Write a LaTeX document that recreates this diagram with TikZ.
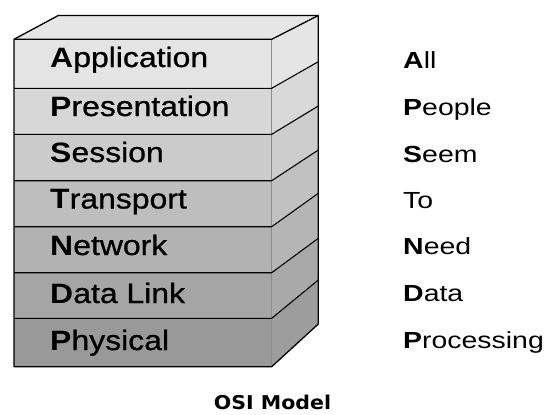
\documentclass[tikz,border=0pt]{standalone}
\usepackage{fontspec}
\setmainfont{Liberation Sans}
\newfontfamily\restfont[FakeBold=0.8]{Liberation Sans}
\newfontfamily\titlefont{DejaVu Sans}
\definecolor{appgray}{RGB}{228,228,228}
\definecolor{presgray}{RGB}{215,215,215}
\definecolor{sessgray}{RGB}{203,203,203}
\definecolor{trangray}{RGB}{190,190,190}
\definecolor{netgray}{RGB}{178,178,178}
\definecolor{datagray}{RGB}{165,165,165}
\definecolor{physgray}{RGB}{153,153,153}
\definecolor{topgray}{RGB}{230,230,230}
\definecolor{edgegray}{RGB}{140,140,140}

\begin{document}
\begin{tikzpicture}[x=1pt,y=-1pt,
    layer/.style={anchor=base west, inner sep=0pt, xscale=1.14, font=\fontsize{28}{28}\selectfont},
    word/.style={anchor=base west, inner sep=0pt, xscale=1.22, font=\fontsize{23.3}{23.3}\selectfont}]
            \useasboundingbox (0,0) rectangle (549,415);
            % front of the stack
            \fill[appgray]                                   ( 14.0, 39.3) rectangle (271.7, 88.3);
            \fill[presgray]                                  ( 14.0, 88.3) rectangle (271.7,134.3);
            \fill[sessgray]                                  ( 14.0,134.3) rectangle (271.7,180.7);
            \fill[trangray]                                  ( 14.0,180.7) rectangle (271.7,226.7);
            \fill[netgray]                                   ( 14.0,226.7) rectangle (271.7,272.7);
            \fill[datagray]                                  ( 14.0,272.7) rectangle (271.7,318.3);
            \fill[physgray]                                  ( 14.0,318.3) rectangle (271.7,366.7);
            % side of the stack
            \fill[appgray!96!white]  (271.7, 39.3) -- (318.3, 16.0) -- (318.3, 61.7) -- (271.7, 88.3) -- cycle;
            \fill[presgray!96!white] (271.7, 88.3) -- (318.3, 61.7) -- (318.3,106.0) -- (271.7,134.3) -- cycle;
            \fill[sessgray!96!white] (271.7,134.3) -- (318.3,106.0) -- (318.3,150.0) -- (271.7,180.7) -- cycle;
            \fill[trangray!96!white] (271.7,180.7) -- (318.3,150.0) -- (318.3,193.3) -- (271.7,226.7) -- cycle;
            \fill[netgray!96!white]  (271.7,226.7) -- (318.3,193.3) -- (318.3,238.3) -- (271.7,272.7) -- cycle;
            \fill[datagray!96!white] (271.7,272.7) -- (318.3,238.3) -- (318.3,280.0) -- (271.7,318.3) -- cycle;
            \fill[physgray!96!white] (271.7,318.3) -- (318.3,280.0) -- (318.3,324.0) -- (271.7,366.7) -- cycle;
            % top of the stack
            \fill[topgray]           ( 14.0, 39.3) -- ( 58.3, 15.5) -- (318.3, 15.5) -- (271.7, 39.3) -- cycle;
            % edges
            \draw[edgegray, line width=1pt]                  (271.7, 39.3) -- (271.7,366.7);
            \draw[line width=1.1pt]                          ( 14.0, 88.3) -- (271.7, 88.3) -- (318.3, 61.7);
            \draw[line width=1.1pt]                          ( 14.0,134.3) -- (271.7,134.3) -- (318.3,106.0);
            \draw[line width=1.1pt]                          ( 14.0,180.7) -- (271.7,180.7) -- (318.3,150.0);
            \draw[line width=1.1pt]                          ( 14.0,226.7) -- (271.7,226.7) -- (318.3,193.3);
            \draw[line width=1.1pt]                          ( 14.0,272.7) -- (271.7,272.7) -- (318.3,238.3);
            \draw[line width=1.1pt]                          ( 14.0,318.3) -- (271.7,318.3) -- (318.3,280.0);
            \draw[line width=1.3pt]                          ( 14.0, 39.3) -- (271.7, 39.3) -- (318.3, 15.5);
            \draw[line width=1.3pt, line join=round]         ( 14.0,366.7) -- ( 14.0, 39.3) -- ( 58.3, 15.5) -- (318.3, 15.5)
                 -- (318.3,324.0) -- (271.7,366.7) -- cycle;
            % layer names
            \node[layer] (app)  at (50, 67.0) {\textbf{A}{\restfont pplication}};
            \node[layer] (pres) at (50,116.0) {\textbf{P}{\restfont resentation}};
            \node[layer] (sess) at (50,162.0) {\textbf{S}{\restfont ession}};
            \node[layer] (tran) at (50,208.5) {\textbf{T}{\restfont ransport}};
            \node[layer] (net)  at (50,255.0) {\textbf{N}{\restfont etwork}};
            \node[layer] (data) at (50,303.0) {\textbf{D}{\restfont ata Link}};
            \node[layer] (phys) at (50,350.0) {\textbf{P}{\restfont hysical}};
            % mnemonic
            \node[word] (all)     at (403, 68.0) {\textbf{A}ll};
            \node[word] (people)  at (403,115.5) {\textbf{P}eople};
            \node[word] (seem)    at (403,162.0) {\textbf{S}eem};
            \node[word] (to)      at (403,208.0) {To};
            \node[word] (need)    at (403,254.5) {\textbf{N}eed};
            \node[word] (dataw)   at (403,301.5) {\textbf{D}ata};
            \node[word] (process) at (403,348.3) {\textbf{P}rocessing};
            % caption
            \node[anchor=base, inner sep=0pt, xscale=1.08, font=\titlefont\bfseries\fontsize{19}{19}\selectfont]
                 (osi) at (272.5,409) {OSI Model};
\end{tikzpicture}
\end{document}
